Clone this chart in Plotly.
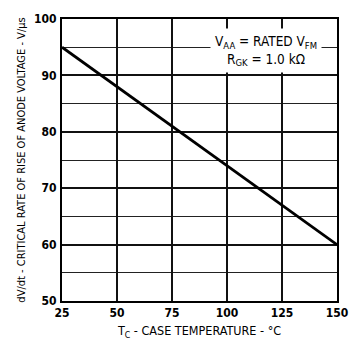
import plotly.graph_objects as go

temps = [25, 50, 75, 100, 125, 150]
dvdt = [95, 88, 81, 74, 67, 60]
x_ticks = [25, 50, 75, 100, 125, 150]
y_ticks = [50, 60, 70, 80, 90, 100]

FONT = "DejaVu Sans Condensed, Liberation Sans Narrow, sans-serif"

fig = go.Figure()
fig.add_trace(go.Scatter(x=temps, y=dvdt, mode="lines",
                         line=dict(color="black", width=2.8), showlegend=False))

fig.add_annotation(
    x=0.742, y=94.5, xref="paper", yref="y", xanchor="center", yanchor="middle",
    text="V<sub>AA</sub> = RATED V<sub>FM</sub><br>R<sub>GK</sub> = 1.0 kΩ",
    showarrow=False, bgcolor="white", align="center",
    font=dict(family=FONT, size=13.5, color="black"),
    borderpad=4,
)

fig.update_xaxes(range=[25, 150], tickvals=x_ticks, ticktext=[str(v) for v in x_ticks],
                 showgrid=True, gridcolor="#111", gridwidth=1.5,
                 showline=True, linecolor="black", linewidth=2, mirror=True,
                 ticks="", zeroline=False, ticklabelstandoff=0,
                 tickfont=dict(family=FONT, size=12, color="black", weight="bold"),
                 title=dict(text="T<sub>C</sub> - CASE TEMPERATURE - °C",
                            font=dict(family=FONT, size=12.5, color="black"), standoff=7))
fig.update_yaxes(range=[50, 100], tickvals=y_ticks, ticktext=[str(v) for v in y_ticks],
                 showgrid=True, gridcolor="#111", gridwidth=1.5,
                 minor=dict(dtick=5, showgrid=True, gridcolor="#222", gridwidth=1.3),
                 showline=True, linecolor="black", linewidth=2, mirror=True,
                 ticks="", zeroline=False, ticklabelstandoff=1,
                 tickfont=dict(family=FONT, size=12, color="black", weight="bold"),
                 title=dict(text="dV/dt - CRITICAL RATE OF RISE OF ANODE VOLTAGE - V/µs",
                            font=dict(family=FONT, size=11, color="black"), standoff=6))

fig.update_layout(width=360, height=348, margin=dict(l=62, r=12, t=14, b=46),
                  plot_bgcolor="white", paper_bgcolor="white")
fig.write_html("out.html")
